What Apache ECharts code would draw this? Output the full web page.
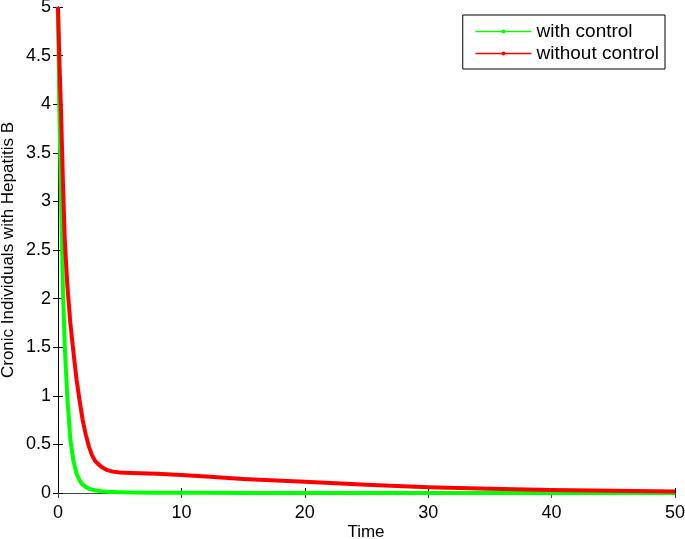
<!DOCTYPE html>
<html><head><meta charset="utf-8">
<script src="https://cdn.jsdelivr.net/npm/echarts@6/dist/echarts.min.js"></script>
<style>html,body{margin:0;padding:0;background:#fff}#c{width:685px;height:539px}</style>
</head><body><div id="c"></div>
<script>
const timePoints = [0,0.1,0.25,0.4,0.55,0.75,1,1.25,1.5,1.75,2,2.25,2.5,2.75,3,3.5,4,4.5,5,6,8,10,12,15,20,25,30,35,40,45,50];
const withControl = [5,4.0,3.0,2.1,1.5,1.0,0.55,0.33,0.2,0.13,0.085,0.062,0.045,0.035,0.028,0.018,0.013,0.01,0.008,0.005,0.003,0.002,0.0015,0.001,0.001,0.001,0.001,0.001,0.001,0.001,0.001];
const withoutControl = [5,4.5,3.9,3.2,2.6,2.15,1.75,1.45,1.17,0.95,0.75,0.6,0.48,0.39,0.33,0.27,0.235,0.218,0.21,0.205,0.198,0.185,0.17,0.145,0.115,0.085,0.06,0.045,0.032,0.022,0.015];
const seriesNames = ['with control','without control'];
const xTitle = 'Time';
const yTitle = 'Cronic Individuals with Hepatitis B';

const pair = (ys) => timePoints.map((t,i)=>[t, ys[i]]);
const font = 'Liberation Sans, Arial, sans-serif';
const chart = echarts.init(document.getElementById('c'));
const axLine = {show:true, lineStyle:{color:'#000', width:1}};
chart.setOption({
  animation:false,
  backgroundColor:'#fff',
  grid:{left:58, right:10, top:7, bottom:46, outerBoundsMode:'none', containLabel:false},
  legend:{
    right:20, top:15, orient:'vertical',
    backgroundColor:'#fff', borderColor:'#000', borderWidth:1, borderRadius:0,
    padding:[7,6,6,12], itemGap:3, itemWidth:56, itemHeight:5,
    textStyle:{fontFamily:font, fontSize:19, color:'#000'},
    data:seriesNames.map(n=>({name:n, lineStyle:{width:1.5}}))
  },
  graphic:[
    {type:'text', x:366, y:532, style:{text:xTitle, fontFamily:font, fontSize:17, fill:'#000', align:'center', verticalAlign:'middle'}},
    {type:'text', rotation:Math.PI/2, x:8, y:250, style:{text:yTitle, fontFamily:font, fontSize:17, fill:'#000', align:'center', verticalAlign:'middle'}}
  ],
  xAxis:[{
    type:'value', min:0, max:50, interval:10,
    axisLine:axLine, axisTick:{show:true, inside:true, length:5, lineStyle:{color:'#000'}},
    splitLine:{show:false},
    axisLabel:{fontFamily:font, fontSize:18, color:'#000', margin:11}
  },{
    type:'value', min:0, max:50, interval:10, position:'top',
    axisLine:{show:true, lineStyle:{color:'#444', width:1}},
    axisTick:{show:true, inside:true, length:5, lineStyle:{color:'#444'}},
    axisLabel:{show:false}, splitLine:{show:false}
  }],
  yAxis:[{
    type:'value', min:0, max:5, interval:0.5,
    axisLine:axLine, axisTick:{show:true, inside:true, length:5, lineStyle:{color:'#000'}},
    splitLine:{show:false},
    axisLabel:{fontFamily:font, fontSize:18, color:'#000', margin:7}
  },{
    type:'value', min:0, max:5, interval:0.5, position:'right',
    axisLine:axLine, axisTick:{show:true, inside:true, length:5, lineStyle:{color:'#000'}},
    axisLabel:{show:false}, splitLine:{show:false}
  }],
  series:[{
    name:seriesNames[0], type:'line', data:pair(withControl),
    smooth:false, showSymbol:false, symbol:'circle', symbolSize:4,
    lineStyle:{color:'#00ff00', width:4, join:'round'}, itemStyle:{color:'#00ff00'}, z:2
  },{
    name:seriesNames[1], type:'line', data:pair(withoutControl),
    smooth:false, showSymbol:false, symbol:'circle', symbolSize:4,
    lineStyle:{color:'#ff0000', width:4, join:'round'}, itemStyle:{color:'#ff0000'}, z:3
  }]
});
</script></body></html>
